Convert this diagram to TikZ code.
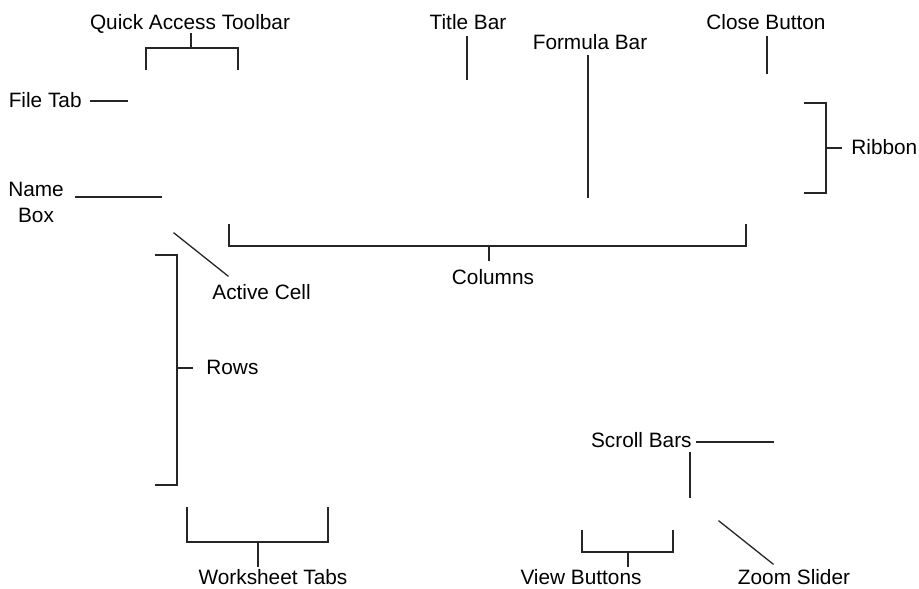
\documentclass[tikz,border=0pt]{standalone}
\usepackage{fontspec}
\setmainfont{Liberation Sans}
\usetikzlibrary{positioning}

\tikzset{
  lbl/.style={inner sep=0pt, font=\fontsize{10.4}{13}\selectfont},
  lead/.style={line width=0.65pt, color=black!85, line cap=rect},
}

\begin{document}
\begin{tikzpicture}[x=0.5pt,y=0.5pt,yscale=-1,xscale=1]
\useasboundingbox (0,0) rectangle (919,588);

% Text Node
\node (qat) [lbl, anchor=base] at (190,30) {Quick Access Toolbar};
\node (titlebar) [lbl, anchor=base] at (468,30) {Title Bar};
\node (closebtn) [lbl, anchor=base] at (766,30) {Close Button};
\node (formulabar) [lbl, anchor=base] at (590,50) {Formula Bar};
\node (filetab) [lbl, anchor=base east] at (82,108) {File Tab};
\node (namebox) [lbl, anchor=north, align=center] at (36,182) {Name\\Box};
\node (ribbon) [lbl, anchor=base west] at (851,155) {Ribbon};
\node (columns) [lbl, anchor=base] at (493,284) {Columns};
\node (activecell) [lbl, anchor=base west] at (212,299) {Active Cell};
\node (rows) [lbl, anchor=base west] at (206,374) {Rows};
\node (scrollbars) [lbl, anchor=base east] at (692,447) {Scroll Bars};
\node (wstabs) [lbl, anchor=base] at (273,584) {Worksheet Tabs};
\node (viewbtns) [lbl, anchor=base] at (581,584) {View Buttons};
\node (zoomslider) [lbl, anchor=base] at (794,584) {Zoom Slider};

% Leader ends
\coordinate (qat-a) at (191,34);   \coordinate (qat-b) at (191,48);
\coordinate (qat-l) at (146,69);   \coordinate (qat-r) at (238,69);
\coordinate (title-a) at (467,37); \coordinate (title-b) at (467,79);
\coordinate (close-a) at (767,37); \coordinate (close-b) at (767,73);
\coordinate (formula-a) at (588,56); \coordinate (formula-b) at (588,197);
\coordinate (file-a) at (91,101);  \coordinate (file-b) at (127,101);
\coordinate (name-a) at (76,197);  \coordinate (name-b) at (161,197);
\coordinate (cell-a) at (228,276); \coordinate (cell-b) at (174,233);
\coordinate (col-l) at (229,225);  \coordinate (col-r) at (746,225);
\coordinate (col-m) at (489,246);  \coordinate (col-s) at (489,260);
\coordinate (rib-t) at (805,103);  \coordinate (rib-b) at (805,193);
\coordinate (rib-m) at (826,148);  \coordinate (rib-s) at (841,148);
\coordinate (row-t) at (156,255);  \coordinate (row-b) at (156,485);
\coordinate (row-m) at (177,368);  \coordinate (row-s) at (192,368);
\coordinate (ws-l) at (187,508);   \coordinate (ws-r) at (328,508);
\coordinate (ws-m) at (258,542);   \coordinate (ws-s) at (258,566);
\coordinate (vb-l) at (582,531);   \coordinate (vb-r) at (673,531);
\coordinate (vb-m) at (628,552);   \coordinate (vb-s) at (628,566);
\coordinate (scroll-a) at (697,442); \coordinate (scroll-b) at (773,442);
\coordinate (scroll-c) at (690,453); \coordinate (scroll-d) at (690,497);
\coordinate (zoom-a) at (773,564); \coordinate (zoom-b) at (719,521);

% Leaders
\draw [lead] (qat-a) -- (qat-b);
\draw [lead] (qat-l) |- (qat-b) -| (qat-r);
\draw [lead] (title-a) -- (title-b);
\draw [lead] (close-a) -- (close-b);
\draw [lead] (formula-a) -- (formula-b);
\draw [lead] (file-a) -- (file-b);
\draw [lead] (name-a) -- (name-b);
\draw [lead] (cell-a) -- (cell-b);
\draw [lead] (col-l) |- (col-m) -| (col-r);
\draw [lead] (col-m) -- (col-s);
\draw [lead] (rib-t) -| (rib-m) |- (rib-b);
\draw [lead] (rib-m) -- (rib-s);
\draw [lead] (row-t) -| (row-m) |- (row-b);
\draw [lead] (row-m) -- (row-s);
\draw [lead] (ws-l) |- (ws-m) -| (ws-r);
\draw [lead] (ws-m) -- (ws-s);
\draw [lead] (vb-l) |- (vb-m) -| (vb-r);
\draw [lead] (vb-m) -- (vb-s);
\draw [lead] (scroll-a) -- (scroll-b);
\draw [lead] (scroll-c) -- (scroll-d);
\draw [lead] (zoom-a) -- (zoom-b);

\end{tikzpicture}
\end{document}
